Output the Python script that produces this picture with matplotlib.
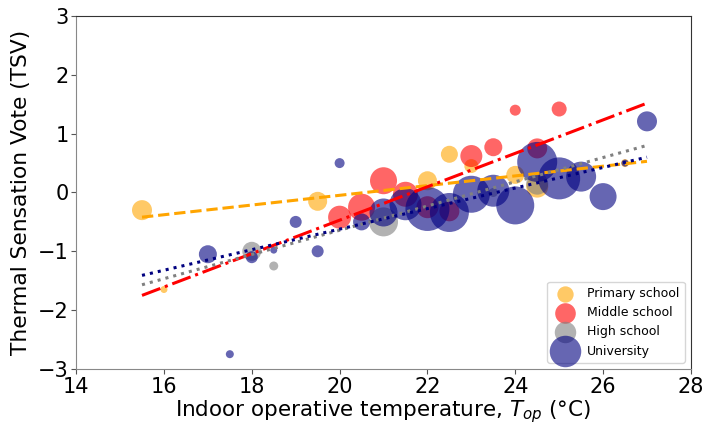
import numpy as np
import matplotlib
matplotlib.use('Agg')
import matplotlib.pyplot as plt

plt.rcParams['font.size'] = 14

# Primary school
x_pri = [15.5, 16.0, 19.5, 22.0, 22.5, 23.0, 24.0, 24.5, 26.5]
y_pri = [-0.30, -1.65, -0.15, 0.20, 0.65, 0.45, 0.30, 0.10, 0.50]
d_pri = [20, 7, 19, 19, 17, 14, 18, 22, 8]

# Middle school
x_mid = [20.0, 20.5, 21.0, 21.5, 22.0, 22.5, 23.0, 23.5, 24.0, 24.5, 25.0]
y_mid = [-0.42, -0.25, 0.20, -0.03, -0.25, -0.32, 0.62, 0.77, 1.40, 0.75, 1.42]
d_mid = [23, 27, 27, 25, 22, 20, 22, 18, 11, 20, 15]

# High school
x_high = [18.0, 18.5, 21.0, 23.5, 24.5]
y_high = [-1.00, -1.25, -0.50, 0.00, 0.15]
d_high = [19, 9, 29, 9, 22]

# University
x_uni = [17.0, 17.5, 18.0, 18.5, 19.0, 19.5, 20.0, 20.5, 21.0, 21.5, 22.0,
         22.5, 23.0, 23.5, 24.0, 24.5, 25.0, 25.5, 26.0, 26.5, 27.0]
y_uni = [-1.05, -2.75, -1.10, -0.98, -0.50, -1.00, 0.50, -0.50, -0.34, -0.20, -0.28,
         -0.34, -0.03, 0.03, -0.22, 0.52, 0.24, 0.27, -0.07, 0.50, 1.21]
d_uni = [18, 8, 12, 7, 12, 12, 10, 17, 28, 32, 44,
         39, 37, 32, 38, 40, 42, 30, 27, 7, 20]

# fitted lines (slope, intercept), drawn over 15.5-27
fit_x = [15.5, 27.0]
fit_pri = (0.0826, -1.700)
fit_mid = (0.2843, -6.157)
fit_high = (0.2061, -4.764)
fit_uni = (0.1748, -4.119)


def sz(d):
    # diameter in pixels -> marker area in points^2 (dpi 100)
    return (np.array(d) * 0.72) ** 2


fig, ax = plt.subplots(figsize=(7.05, 4.24), dpi=100)
fig.subplots_adjust(left=0.108, right=0.980, bottom=0.130, top=0.962)

ax.scatter(x_pri, y_pri, s=sz(d_pri), c='orange', alpha=0.6, linewidths=0, label='Primary school')
ax.scatter(x_mid, y_mid, s=sz(d_mid), c='red', alpha=0.6, linewidths=0, label='Middle school')
ax.scatter(x_high, y_high, s=sz(d_high), c='gray', alpha=0.6, linewidths=0, label='High school')
ax.scatter(x_uni, y_uni, s=sz(d_uni), c='navy', alpha=0.6, linewidths=0, label='University')

fx = np.array(fit_x)
ax.plot(fx, fit_pri[0] * fx + fit_pri[1], color='orange', ls='--', lw=2.2)
ax.plot(fx, fit_mid[0] * fx + fit_mid[1], color='red', ls='-.', lw=2.2)
ax.plot(fx, fit_high[0] * fx + fit_high[1], color='gray', ls=':', lw=2.2)
ax.plot(fx, fit_uni[0] * fx + fit_uni[1], color='navy', ls=':', lw=2.2)

ax.set_xlim(14, 28)
ax.set_ylim(-3, 3)
ax.set_xticks(range(14, 29, 2))
ax.set_yticks(range(-3, 4))
ax.tick_params(labelsize=15, colors='#555555', labelcolor='black', pad=2)
ax.spines['left'].set_color('#888888')
ax.spines['bottom'].set_color('#888888')
ax.spines['top'].set_color('#333333')
ax.spines['right'].set_color('#333333')
ax.set_xlabel(r'Indoor operative temperature, $T_{op}$ (°C)', fontsize=15.5, labelpad=1)
ax.set_ylabel('Thermal Sensation Vote (TSV)', fontsize=15.7, labelpad=5)
ax.legend(loc='lower right', fontsize=9)

plt.savefig('out.png', dpi=100)
